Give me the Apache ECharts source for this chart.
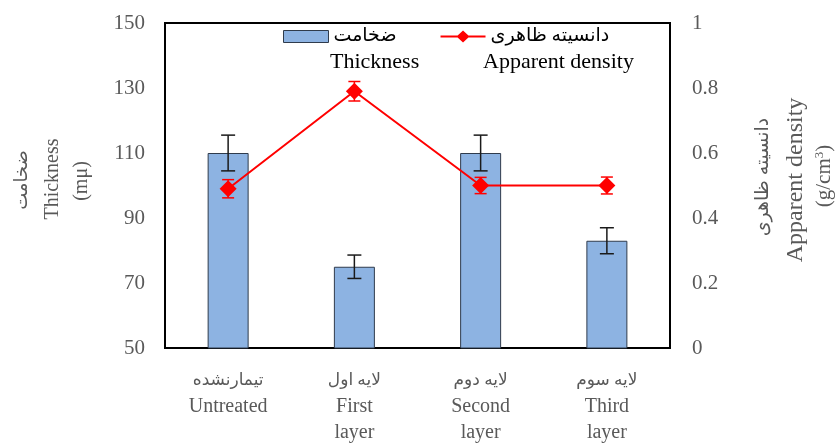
<!DOCTYPE html>
<html>
<head>
<meta charset="utf-8">
<script src="https://cdn.jsdelivr.net/npm/echarts@6/dist/echarts.min.js"></script>
<style>
  html, body { margin: 0; padding: 0; background: #fff; }
  #chart { width: 839px; height: 443px; }
</style>
</head>
<body>
<div id="chart"></div>
<script>
// Categories (Persian + English label lines)
const catFa = ['تیمارنشده', 'لایه اول', 'لایه دوم', 'لایه سوم'];
const catEn = ['Untreated', 'First\nlayer', 'Second\nlayer', 'Third\nlayer'];

// Thickness (mμ) with error
const thickness = [110, 75, 110, 83];
const thicknessErr = [5.5, 3.6, 5.5, 4];

// Apparent density (g/cm3) with error
const density = [0.49, 0.79, 0.50, 0.50];
const densityErr = [0.028, 0.03, 0.025, 0.026];

// Axis ranges
const leftAxis = { min: 50, max: 150, interval: 20 };
const rightAxis = { min: 0, max: 1, interval: 0.2 };

const serif = "'Liberation Serif', 'DejaVu Serif', 'DejaVu Sans', serif";
const labelGrey = '#595959';

const chart = echarts.init(document.getElementById('chart'), null, { renderer: 'canvas' });

function errorBarItem(color, capHalf) {
  return function (params, api) {
    const x = api.value(0);
    const lo = api.coord([x, api.value(1)]);
    const hi = api.coord([x, api.value(2)]);
    const style = { stroke: color, lineWidth: 1.5 };
    return {
      type: 'group',
      children: [
        { type: 'line', shape: { x1: lo[0], y1: lo[1], x2: hi[0], y2: hi[1] }, style },
        { type: 'line', shape: { x1: lo[0] - capHalf, y1: lo[1], x2: lo[0] + capHalf, y2: lo[1] }, style },
        { type: 'line', shape: { x1: hi[0] - capHalf, y1: hi[1], x2: hi[0] + capHalf, y2: hi[1] }, style }
      ]
    };
  };
}

const thicknessErrData = thickness.map((v, i) => [i, v - thicknessErr[i], v + thicknessErr[i]]);
const densityErrData = density.map((v, i) => [i, v - densityErr[i], v + densityErr[i]]);

// Legend icon for the density line: a thin stroke with a diamond marker in the middle
const lineDiamondIcon = 'path://M0,5 H45 V7 H0 Z M22.5,0 L29,6 L22.5,12 L16,6 Z';

const option = {
  animation: false,
  backgroundColor: '#fff',
  textStyle: { fontFamily: serif },
  grid: {
    left: 165, right: 169, top: 23, bottom: 93,
    show: true, borderColor: '#000', borderWidth: 2, backgroundColor: 'transparent'
  },
  legend: {
    left: 278, top: 22,
    itemWidth: 45, itemHeight: 12, itemGap: 44,
    textStyle: { fontFamily: serif, fontSize: 19, color: '#000' },
    data: [
      { name: 'ضخامت', icon: 'rect', itemStyle: { borderColor: '#2F3B4C', borderWidth: 1 } },
      { name: 'دانسیته ظاهری', icon: lineDiamondIcon }
    ]
  },
  xAxis: {
    type: 'category',
    data: catEn,
    axisLine: { show: false },
    axisTick: { show: false },
    axisLabel: {
      margin: 20,
      interval: 0,
      formatter: function (v, i) {
        return '{fa|' + catFa[i] + '}\n' + catEn[i].split('\n').map(s => '{en|' + s + '}').join('\n');
      },
      rich: {
        fa: { fontFamily: serif, fontSize: 17, color: labelGrey, lineHeight: 26 },
        en: { fontFamily: serif, fontSize: 20, color: labelGrey, lineHeight: 26 }
      }
    }
  },
  yAxis: [
    {
      type: 'value',
      min: leftAxis.min, max: leftAxis.max, interval: leftAxis.interval,
      axisLine: { show: false }, axisTick: { show: false }, splitLine: { show: false },
      axisLabel: { margin: 20, fontFamily: serif, fontSize: 21, color: labelGrey }
    },
    {
      type: 'value',
      min: rightAxis.min, max: rightAxis.max, interval: rightAxis.interval,
      axisLine: { show: false }, axisTick: { show: false }, splitLine: { show: false },
      axisLabel: { margin: 22, fontFamily: serif, fontSize: 21, color: labelGrey }
    }
  ],
  graphic: [
    // Legend English captions
    { type: 'text', left: 330, top: 51, style: { text: 'Thickness', font: '22px ' + serif, fill: '#000' } },
    { type: 'text', left: 483, top: 51, style: { text: 'Apparent density', font: '22px ' + serif, fill: '#000' } },
    // Left axis title (rotated)
    { type: 'text', x: 22, y: 180, rotation: Math.PI / 2,
      style: { text: 'ضخامت', font: '18px ' + serif, fill: labelGrey, align: 'center', verticalAlign: 'middle' } },
    { type: 'text', x: 53, y: 179, rotation: Math.PI / 2,
      style: { text: 'Thickness', font: '20px ' + serif, fill: labelGrey, align: 'center', verticalAlign: 'middle' } },
    { type: 'text', x: 82, y: 181, rotation: Math.PI / 2,
      style: { text: '(mμ)', font: '20px ' + serif, fill: labelGrey, align: 'center', verticalAlign: 'middle' } },
    // Right axis title (rotated)
    { type: 'text', x: 763, y: 177, rotation: Math.PI / 2,
      style: { text: 'دانسیته ظاهری', font: '19px ' + serif, fill: labelGrey, align: 'center', verticalAlign: 'middle' } },
    { type: 'text', x: 796, y: 180, rotation: Math.PI / 2,
      style: { text: 'Apparent density', font: '24px ' + serif, fill: labelGrey, align: 'center', verticalAlign: 'middle' } },
    { type: 'text', x: 824, y: 176, rotation: Math.PI / 2,
      style: {
        text: '{u|(g/cm}{s|3}{u|)}', font: '20px ' + serif, fill: labelGrey, align: 'center', verticalAlign: 'middle',
        rich: {
          u: { font: '21px ' + serif, fill: labelGrey },
          s: { font: '13px ' + serif, fill: labelGrey, verticalAlign: 'top', padding: [0, 0, 8, 0] }
        }
      } }
  ],
  series: [
    {
      name: 'ضخامت',
      type: 'bar',
      yAxisIndex: 0,
      data: thickness,
      barWidth: 41,
      itemStyle: { color: '#8DB3E2', borderColor: '#2F3B4C', borderWidth: 1 },
      z: 2
    },
    {
      name: 'thicknessError',
      type: 'custom',
      yAxisIndex: 0,
      data: thicknessErrData,
      encode: { x: 0, y: [1, 2] },
      renderItem: errorBarItem('#1a1a1a', 7),
      z: 3
    },
    {
      name: 'densityError',
      type: 'custom',
      yAxisIndex: 1,
      data: densityErrData,
      encode: { x: 0, y: [1, 2] },
      renderItem: errorBarItem('#ff0000', 6),
      z: 4
    },
    {
      name: 'دانسیته ظاهری',
      type: 'line',
      yAxisIndex: 1,
      data: density,
      symbol: 'diamond',
      symbolSize: 17,
      lineStyle: { color: '#ff0000', width: 2 },
      itemStyle: { color: '#ff0000' },
      z: 5
    }
  ]
};

chart.setOption(option);
</script>
</body>
</html>
